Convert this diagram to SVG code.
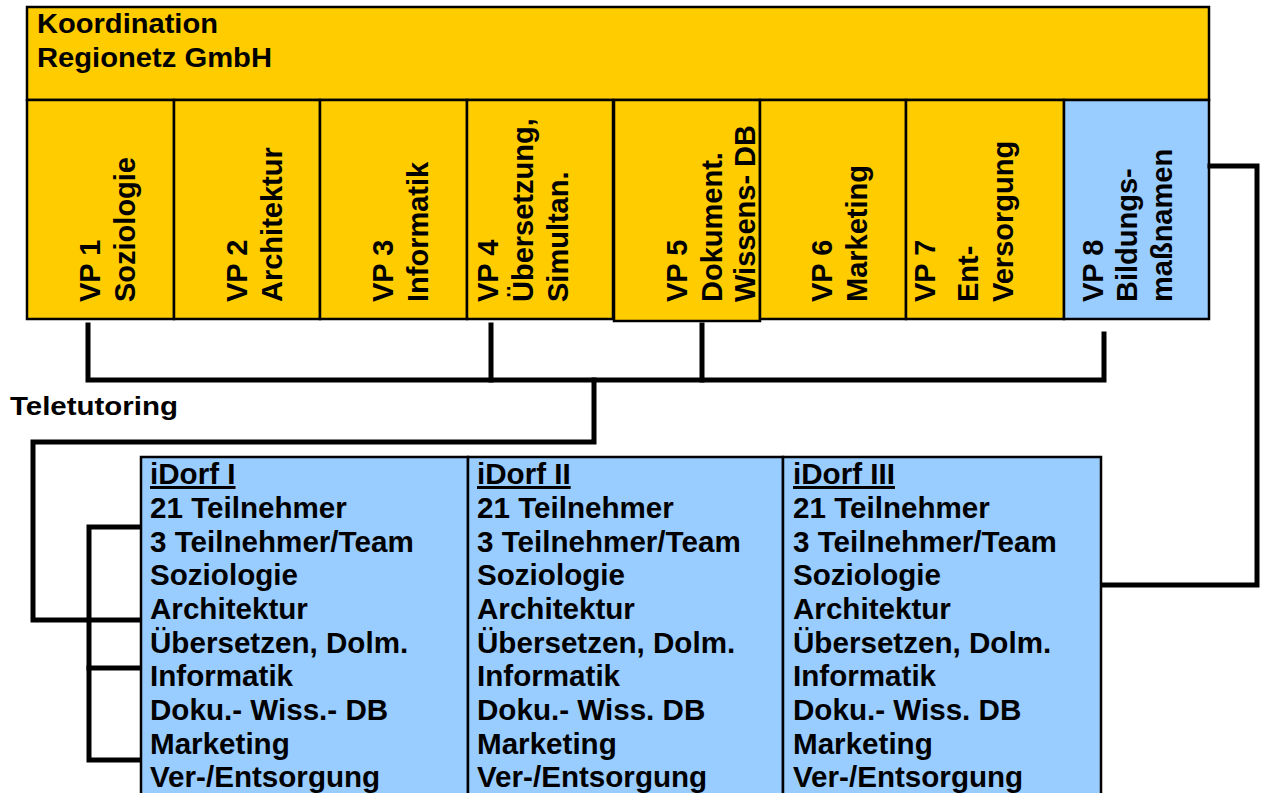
<svg xmlns="http://www.w3.org/2000/svg" width="1261" height="793" viewBox="0 0 1261 793">
<style>
text{font-family:"Liberation Sans",Arial,sans-serif;font-weight:bold;font-size:29px;fill:#000}
.t{font-size:29.6px}
.y{fill:#FFCC00;stroke:#000;stroke-width:2.5}
.b{fill:#99CCFF;stroke:#000;stroke-width:2.5}
.c{fill:none;stroke:#000;stroke-width:5;stroke-linejoin:miter;stroke-linecap:square}
.u{text-decoration:underline}
</style>
<g id="koordination">
<rect class="y" x="27" y="7" width="1182" height="93"/>
<text x="37" y="33" textLength="181" lengthAdjust="spacingAndGlyphs" style="font-size:27px">Koordination</text>
<text x="37" y="67" textLength="235" lengthAdjust="spacingAndGlyphs" style="font-size:27px">Regionetz GmbH</text>
</g>
<g id="vp1"><rect class="y" x="27" y="100" width="147" height="219"/>
<text transform="translate(100,302) rotate(-90)">VP 1</text>
<text transform="translate(135,302) rotate(-90)">Soziologie</text></g>
<g id="vp2"><rect class="y" x="174" y="100" width="146" height="219"/>
<text transform="translate(247,302) rotate(-90)">VP 2</text>
<text transform="translate(282,302) rotate(-90)">Architektur</text></g>
<g id="vp3"><rect class="y" x="320" y="100" width="147" height="219"/>
<text transform="translate(393,302) rotate(-90)">VP 3</text>
<text transform="translate(428,302) rotate(-90)">Informatik</text></g>
<g id="vp4"><rect class="y" x="467" y="100" width="146" height="219"/>
<text transform="translate(498,302) rotate(-90)">VP 4</text>
<text transform="translate(533,302) rotate(-90)">Übersetzung,</text>
<text transform="translate(568,302) rotate(-90)">Simultan.</text></g>
<g id="vp5"><rect class="y" x="614" y="100" width="146" height="221"/>
<text transform="translate(687,302) rotate(-90)">VP 5</text>
<text transform="translate(722,302) rotate(-90)">Dokument.</text>
<text transform="translate(755,302) rotate(-90)">Wissens- DB</text></g>
<g id="vp6"><rect class="y" x="760" y="100" width="146" height="219"/>
<text transform="translate(832,302) rotate(-90)">VP 6</text>
<text transform="translate(867,302) rotate(-90)">Marketing</text></g>
<g id="vp7"><rect class="y" x="906" y="100" width="158" height="219"/>
<text transform="translate(935,302) rotate(-90)">VP 7</text>
<text transform="translate(978,302) rotate(-90)">Ent-</text>
<text transform="translate(1013,302) rotate(-90)">Versorgung</text></g>
<g id="vp8"><rect class="b" x="1064" y="100" width="145" height="219"/>
<text transform="translate(1103,302) rotate(-90)">VP 8</text>
<text transform="translate(1137,302) rotate(-90)">Bildungs-</text>
<text transform="translate(1172,302) rotate(-90)">maßnamen</text></g>
<g id="connectors">
<path class="c" d="M88,325 V380 H1104 V334"/>
<path class="c" d="M491,325 V380"/>
<path class="c" d="M702,325 V380"/>
<path class="c" d="M594,380 V442 H33 V620 H138"/>
<path class="c" d="M138,527 H89 V760 H138"/>
<path class="c" d="M89,668 H138"/>
<path class="c" d="M1210,166 H1257 V585 H1102"/>
</g>
<text id="teletutoring" x="10" y="415" textLength="168" lengthAdjust="spacingAndGlyphs" style="font-size:26px">Teletutoring</text>
<g id="idorf1"><rect class="b" x="141" y="457" width="327" height="340"/>
<text x="150" y="484" class="u t">iDorf I</text>
<text x="150" y="518" class="t">21 Teilnehmer</text>
<text x="150" y="552" class="t">3 Teilnehmer/Team</text>
<text x="150" y="585" class="t">Soziologie</text>
<text x="150" y="619" class="t">Architektur</text>
<text x="150" y="653" class="t">Übersetzen, Dolm.</text>
<text x="150" y="686" class="t">Informatik</text>
<text x="150" y="720" class="t">Doku.- Wiss.- DB</text>
<text x="150" y="754" class="t">Marketing</text>
<text x="150" y="787" class="t">Ver-/Entsorgung</text></g>
<g id="idorf2"><rect class="b" x="468" y="457" width="315" height="340"/>
<text x="477" y="484" class="u t">iDorf II</text>
<text x="477" y="518" class="t">21 Teilnehmer</text>
<text x="477" y="552" class="t">3 Teilnehmer/Team</text>
<text x="477" y="585" class="t">Soziologie</text>
<text x="477" y="619" class="t">Architektur</text>
<text x="477" y="653" class="t">Übersetzen, Dolm.</text>
<text x="477" y="686" class="t">Informatik</text>
<text x="477" y="720" class="t">Doku.- Wiss. DB</text>
<text x="477" y="754" class="t">Marketing</text>
<text x="477" y="787" class="t">Ver-/Entsorgung</text></g>
<g id="idorf3"><rect class="b" x="783" y="457" width="318" height="340"/>
<text x="793" y="484" class="u t">iDorf III</text>
<text x="793" y="518" class="t">21 Teilnehmer</text>
<text x="793" y="552" class="t">3 Teilnehmer/Team</text>
<text x="793" y="585" class="t">Soziologie</text>
<text x="793" y="619" class="t">Architektur</text>
<text x="793" y="653" class="t">Übersetzen, Dolm.</text>
<text x="793" y="686" class="t">Informatik</text>
<text x="793" y="720" class="t">Doku.- Wiss. DB</text>
<text x="793" y="754" class="t">Marketing</text>
<text x="793" y="787" class="t">Ver-/Entsorgung</text></g>
</svg>
